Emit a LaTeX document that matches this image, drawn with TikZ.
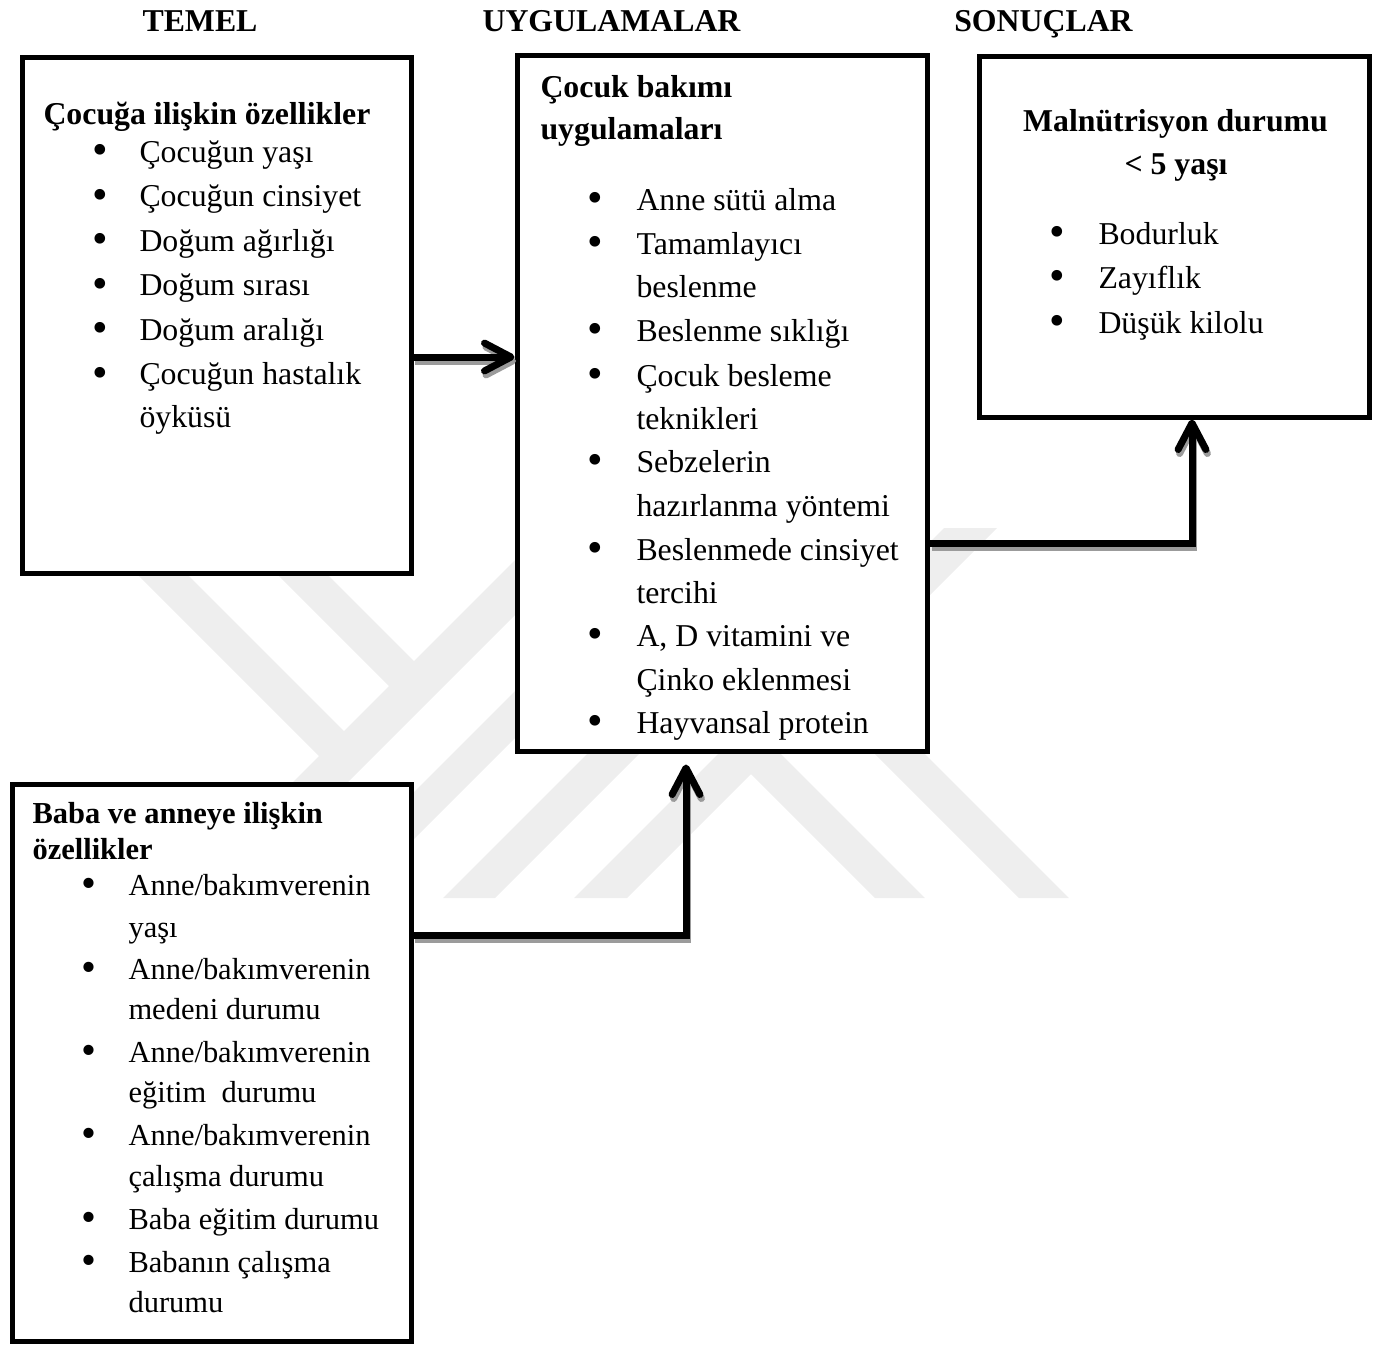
\documentclass[tikz,border=0pt]{standalone}
\usepackage{fontspec}
\setmainfont{Liberation Serif}
\usetikzlibrary{arrows.meta,fit}
\definecolor{wm}{RGB}{238,238,238}
\definecolor{shd}{RGB}{155,155,155}
\newcommand\bl[1]{\llap{\raisebox{-0.08em}{\scalebox{1.4}{\textbullet}}\hspace{#1}}}
\newcommand\fsA{\fontsize{12}{14}\selectfont}
\newcommand\fsB{\fontsize{11.5}{14}\selectfont}
\begin{document}
\begin{tikzpicture}[x=0.3774pt, y=-0.3774pt,
  font=\fsA,
  box/.style={draw, line width=1.887pt, fill=white, inner sep=0pt},
  hd/.style={anchor=base, inner sep=0pt, font=\fsA\bfseries},
  tb/.style={anchor=base west, inner sep=0pt, font=\fsA\bfseries},
  tbc/.style={anchor=base, inner sep=0pt, font=\fsA\bfseries},
  tx/.style={anchor=base west, inner sep=0pt, font=\fsA},
  tbs/.style={anchor=base west, inner sep=0pt, font=\fsB\bfseries},
  txs/.style={anchor=base west, inner sep=0pt, font=\fsB},
  conn/.style={line width=2.64pt, -{Straight Barb[length=10pt, width=10.5pt, round]}},
  connshadow/.style={conn, draw=shd, transform canvas={shift={(1.5,4)}}}]
\useasboundingbox (0,0) rectangle (1378,1346);
% watermark
\begin{scope}
\clip (0,528) rectangle (1378,898);
\fill[wm] (91,528) -- (141,528) -- (356.5,743.5) -- (331.5,768.5) -- cycle;
\fill[wm] (231,528) -- (281,528) -- (426.5,673.5) -- (401.5,698.5) -- cycle;
\fill[wm] (177,898) -- (232,898) -- (602,528) -- (547,528) -- cycle;
\fill[wm] (308,898) -- (355,898) -- (725,528) -- (678,528) -- cycle;
\fill[wm] (443,898) -- (495,898) -- (865,528) -- (813,528) -- cycle;
\fill[wm] (574,898) -- (627,898) -- (997,528) -- (944,528) -- cycle;
\fill[wm] (724.5,747.5) -- (749.5,722.5) -- (925,898) -- (875,898) -- cycle;
\fill[wm] (731,610) -- (756,585) -- (1069,898) -- (1019,898) -- cycle;
\end{scope}
% coordinates for connector bends
\coordinate (a1) at (0,357);
\coordinate (c2) at (1192,543);
\coordinate (c3) at (686,935.5);
% boxes
\node[box, fit={(22,57) (411,573)}] (b1) {};
\node[box, fit={(517,55.5) (927.5,751)}] (b2) {};
\node[box, fit={(979.5,56.5) (1369,417)}] (b3) {};
\node[box, fit={(12,784) (411,1341)}] (b4) {};
% shadows of connectors
\draw[connshadow] (b1.east |- a1) -- (b2.west |- a1);
\draw[connshadow] (b2.east |- c2) -- (c2) -- (c2 |- b3.south);
\draw[connshadow, shorten >=4.15pt] (b4.east |- c3) -- (c3) -- (c3 |- b2.south);
% connectors
\draw[conn] (b1.east |- a1) -- (b2.west |- a1);
\draw[conn] (b2.east |- c2) -- (c2) -- (c2 |- b3.south);
\draw[conn, shorten >=4.15pt] (b4.east |- c3) -- (c3) -- (c3 |- b2.south);
% headers
\node[hd] (h1) at (200,31) {TEMEL};
\node[hd] (h2) at (611.5,31) {UYGULAMALAR};
\node[hd] (h3) at (1043.5,31) {SONUÇLAR};
% box 1
\node[tb] (p0) at (43,124) {Çocuğa ilişkin özellikler};
\node[tx] (p1) at (139,162) {\bl{11.8pt}Çocuğun yaşı};
\node[tx] (p2) at (139,206.5) {\bl{11.8pt}Çocuğun cinsiyet};
\node[tx] (p3) at (139,251) {\bl{11.8pt}Doğum ağırlığı};
\node[tx] (p4) at (139,295.5) {\bl{11.8pt}Doğum sırası};
\node[tx] (p5) at (139,340) {\bl{11.8pt}Doğum aralığı};
\node[tx] (p6) at (139,384.5) {\bl{11.8pt}Çocuğun hastalık};
\node[tx] (p7) at (139,427) {öyküsü};
% box 2
\node[tb] (q0) at (540,97) {Çocuk bakımı};
\node[tb] (q1) at (540,139) {uygulamaları};
\node[tx] (q2) at (636,210) {\bl{12.5pt}Anne sütü alma};
\node[tx] (q3) at (636,254) {\bl{12.5pt}Tamamlayıcı};
\node[tx] (q4) at (636,297) {beslenme};
\node[tx] (q5) at (636,341) {\bl{12.5pt}Beslenme sıklığı};
\node[tx] (q6) at (636,386) {\bl{12.5pt}Çocuk besleme};
\node[tx] (q7) at (636,429) {teknikleri};
\node[tx] (q8) at (636,472) {\bl{12.5pt}Sebzelerin};
\node[tx] (q9) at (636,516) {hazırlanma yöntemi};
\node[tx] (q10) at (636,560) {\bl{12.5pt}Beslenmede cinsiyet};
\node[tx] (q11) at (636,603) {tercihi};
\node[tx] (q12) at (636,646) {\bl{12.5pt}A, D vitamini ve};
\node[tx] (q13) at (636,690) {Çinko eklenmesi};
\node[tx] (q14) at (636,733) {\bl{12.5pt}Hayvansal protein};
% box 3
\node[tbc] (r0) at (1175.5,131) {Malnütrisyon durumu};
\node[tbc] (r1) at (1176,174) {< 5 yaşı};
\node[tx] (r2) at (1098,244) {\bl{12.5pt}Bodurluk};
\node[tx] (r3) at (1098,288) {\bl{12.5pt}Zayıflık};
\node[tx] (r4) at (1098,333) {\bl{12.5pt}Düşük kilolu};
% box 4
\node[tbs] (s0) at (32,823) {Baba ve anneye ilişkin};
\node[tbs] (s1) at (32,859) {özellikler};
\node[txs] (s2) at (128,895) {\bl{12.2pt}Anne/bakımverenin};
\node[txs] (s3) at (128,937) {yaşı};
\node[txs] (s4) at (128,979) {\bl{12.2pt}Anne/bakımverenin};
\node[txs] (s5) at (128,1019) {medeni durumu};
\node[txs] (s6) at (128,1062) {\bl{12.2pt}Anne/bakımverenin};
\node[txs] (s7) at (128,1102) {eğitim\ \ durumu};
\node[txs] (s8) at (128,1145) {\bl{12.2pt}Anne/bakımverenin};
\node[txs] (s9) at (128,1186) {çalışma durumu};
\node[txs] (s10) at (128,1229) {\bl{12.2pt}Baba eğitim durumu};
\node[txs] (s11) at (128,1272) {\bl{12.2pt}Babanın çalışma};
\node[txs] (s12) at (128,1312) {durumu};
\end{tikzpicture}
\end{document}
